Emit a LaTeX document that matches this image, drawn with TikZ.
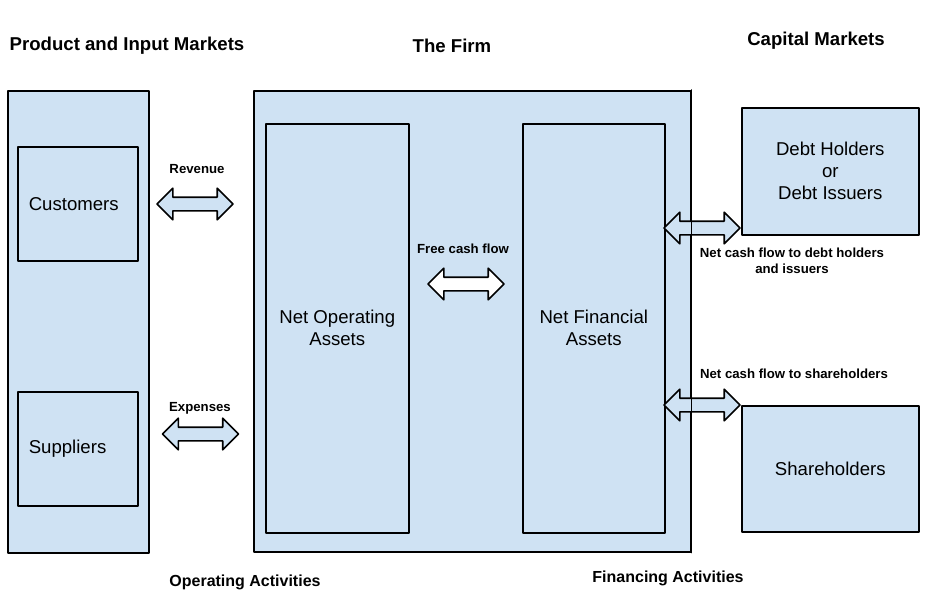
\documentclass[tikz,border=0pt]{standalone}
\usepackage{fontspec}
\setmainfont{Liberation Sans}
\usetikzlibrary{shapes.arrows,positioning}
\definecolor{boxblue}{HTML}{CFE2F3}
\tikzset{
  box/.style={draw=black,line width=1.6pt,fill=boxblue,inner sep=0pt,anchor=north west,
    font=\fontsize{18.6}{22}\selectfont,align=center},
  leftbox/.style={box,text width=98pt,align=left},
  flow/.style={double arrow,draw=black,line width=1.6pt,fill=boxblue,
    double arrow head extend=9pt,double arrow tip angle=90,
    inner xsep=0pt,inner ysep=6pt,minimum height=76pt},
  lbl/.style={font=\fontsize{13.2}{16}\selectfont\bfseries,align=center},
  heading/.style={font=\fontsize{18.6}{22}\selectfont\bfseries},
  activity/.style={font=\fontsize{16}{19}\selectfont\bfseries}
}

\begin{document}
\begin{tikzpicture}[line cap=round,line join=round,x=1pt,y=-1pt]
  \useasboundingbox (0,0) rectangle (926,610);
  % markets on the left
  \node[box,minimum width=141pt,minimum height=462pt] (markets) at (7,90) {};
  \node[leftbox,minimum width=120pt,minimum height=114pt] (cust) at (17,146) {Customers};
  \node[leftbox,minimum width=120pt,minimum height=114pt] (supp) at (17,391) {Suppliers};
  % the firm
  \node[box,minimum width=437pt,minimum height=461pt] (firm) at (253,90) {};
  \node[box,minimum width=143pt,minimum height=409pt] (noa) at (265,123) {Net Operating\\Assets};
  \node[box,minimum width=142pt,minimum height=409pt] (nfa) at (522,123) {Net Financial\\Assets};
  % capital markets
  \node[box,minimum width=177pt,minimum height=127pt] (debt) at (741,107) {Debt Holders\\or\\Debt Issuers};
  \node[box,minimum width=177pt,minimum height=126pt] (share) at (741,405) {Shareholders};
  % flows
  \node[flow] (rev) at (195,204) {};
  \node[flow] (exp) at (200.5,434) {};
  \node[flow,fill=white] (fcf) at (466,284) {};
  \node[flow] (debtflow) at (702,228) {};
  \node[flow] (shareflow) at (702,405) {};
  \draw[line width=1.6pt] (firm.north east) -- (firm.south east);
  % labels
  \node[lbl] (revlbl) at (197,169) {Revenue};
  \node[lbl] (explbl) at (200,408) {Expenses};
  \node[lbl] (fcflbl) at (463,249) {Free cash flow};
  \node[lbl] (debtlbl) at (792,261) {Net cash flow to debt holders\\and issuers};
  \node[lbl] (sharelbl) at (794,374) {Net cash flow to shareholders};
  % headings
  \node[heading] (pim) at (127,46) {Product and Input Markets};
  \node[heading] (thefirm) at (452,46) {The Firm};
  \node[heading] (capm) at (816,41) {Capital Markets};
  \node[activity] (opact) at (245,582) {Operating Activities};
  \node[activity] (finact) at (668,578) {Financing Activities};
\end{tikzpicture}
\end{document}
